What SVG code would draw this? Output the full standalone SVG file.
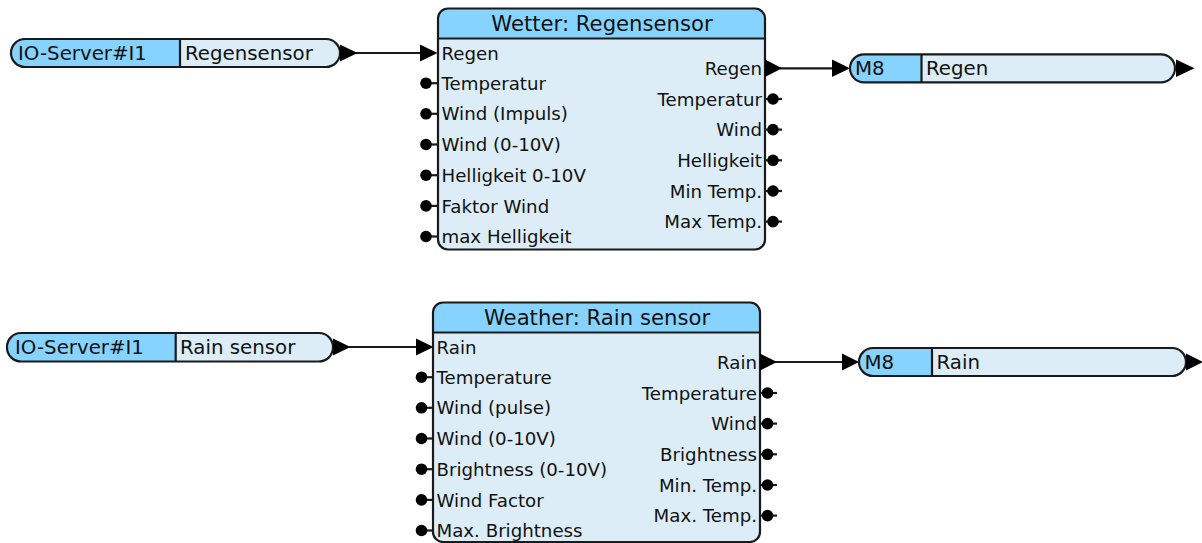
<svg xmlns="http://www.w3.org/2000/svg" width="1202" height="543" viewBox="0 0 1202 543">
<style>
.body{fill:#DCEDF8}
.head{fill:#87D3FF}
.ol{fill:none;stroke:#1a1a1a;stroke-width:2.2}
.ln{stroke:#1a1a1a;stroke-width:2.2;fill:none}
.dot{fill:#000}
.tri{fill:#000}
text{font-family:"DejaVu Sans",sans-serif;fill:#111}
.title{font-size:21.2px;text-anchor:middle}
.lbl{font-size:18.2px}
.rl{font-size:18.2px;text-anchor:end}
.pt{font-size:19.8px}
</style>
<rect width="1202" height="543" fill="#fff"/>

<g id="connectors">
  <line class="ln" x1="356" y1="53" x2="421" y2="53"/>
  <polygon class="tri" points="420,44.5 437.5,53 420,61.5"/>
  <line class="ln" x1="780" y1="68.3" x2="833" y2="68.3"/>
  <polygon class="tri" points="832,59.5 850,68.3 832,77"/>
  <line class="ln" x1="349" y1="347" x2="417" y2="347"/>
  <polygon class="tri" points="416,338.5 433.5,347 416,355.5"/>
  <line class="ln" x1="775" y1="362" x2="843" y2="362"/>
  <polygon class="tri" points="842,353.5 859,362 842,370.5"/>
</g>

<g id="io-top">
  <rect class="body" x="11" y="39" width="329" height="28" rx="14"/>
  <path class="head" d="M180,39 H25 A14,14 0 0 0 25,67 H180 Z"/>
  <rect class="ol" x="11" y="39" width="329" height="28" rx="14"/>
  <line class="ln" x1="180" y1="39" x2="180" y2="67"/>
  <polygon class="tri" points="340,44.5 357.5,53 340,61.5"/>
  <text class="pt" x="18" y="60">IO-Server#I1</text>
  <text class="pt" x="185" y="60">Regensensor</text>
</g>

<g id="block-top">
  <rect class="body" x="438" y="8.5" width="327" height="241" rx="10"/>
  <path class="head" d="M438,38.5 V18.5 A10,10 0 0 1 448,8.5 H755 A10,10 0 0 1 765,18.5 V38.5 Z"/>
  <line class="ln" x1="438" y1="38.5" x2="765" y2="38.5"/>
  <rect class="ol" x="438" y="8.5" width="327" height="241" rx="10"/>
  <text class="title" x="602" y="30.5">Wetter: Regensensor</text>
  <g class="ln">
    <line x1="426" y1="83.2" x2="438" y2="83.2"/>
    <line x1="426" y1="113.8" x2="438" y2="113.8"/>
    <line x1="426" y1="144.5" x2="438" y2="144.5"/>
    <line x1="426" y1="175.2" x2="438" y2="175.2"/>
    <line x1="426" y1="205.9" x2="438" y2="205.9"/>
    <line x1="426" y1="236.5" x2="438" y2="236.5"/>
    <line x1="765" y1="99" x2="782" y2="99"/>
    <line x1="765" y1="129.6" x2="782" y2="129.6"/>
    <line x1="765" y1="160.3" x2="782" y2="160.3"/>
    <line x1="765" y1="191" x2="782" y2="191"/>
    <line x1="765" y1="221.6" x2="782" y2="221.6"/>
  </g>
  <g class="dot">
    <circle cx="426" cy="83.2" r="5.8"/>
    <circle cx="426" cy="113.8" r="5.8"/>
    <circle cx="426" cy="144.5" r="5.8"/>
    <circle cx="426" cy="175.2" r="5.8"/>
    <circle cx="426" cy="205.9" r="5.8"/>
    <circle cx="426" cy="236.5" r="5.8"/>
    <circle cx="773" cy="99" r="5.8"/>
    <circle cx="773" cy="129.6" r="5.8"/>
    <circle cx="773" cy="160.3" r="5.8"/>
    <circle cx="773" cy="191" r="5.8"/>
    <circle cx="773" cy="221.6" r="5.8"/>
  </g>
  <polygon class="tri" points="765,59.5 782,68.3 765,77"/>
  <text class="lbl" x="441.5" y="59.6">Regen</text>
  <text class="lbl" x="441.5" y="89.8">Temperatur</text>
  <text class="lbl" x="441.5" y="120.4">Wind (Impuls)</text>
  <text class="lbl" x="441.5" y="151.1">Wind (0-10V)</text>
  <text class="lbl" x="441.5" y="181.8">Helligkeit 0-10V</text>
  <text class="lbl" x="441.5" y="212.5">Faktor Wind</text>
  <text class="lbl" x="441.5" y="243.1">max Helligkeit</text>
  <text class="rl" x="762" y="74.9">Regen</text>
  <text class="rl" x="762" y="105.6">Temperatur</text>
  <text class="rl" x="762" y="136.2">Wind</text>
  <text class="rl" x="762" y="166.9">Helligkeit</text>
  <text class="rl" x="762" y="197.6">Min Temp.</text>
  <text class="rl" x="762" y="228.2">Max Temp.</text>
</g>

<g id="m8-top">
  <rect class="body" x="850" y="54.3" width="325" height="28" rx="14"/>
  <path class="head" d="M921.5,54.3 H864 A14,14 0 0 0 864,82.3 H921.5 Z"/>
  <rect class="ol" x="850" y="54.3" width="325" height="28" rx="14"/>
  <line class="ln" x1="921.5" y1="54.3" x2="921.5" y2="82.3"/>
  <polygon class="tri" points="1176,59.5 1194.5,68.3 1176,77"/>
  <text class="pt" x="855" y="75.3">M8</text>
  <text class="pt" x="926" y="75.3">Regen</text>
</g>

<g id="io-bottom">
  <rect class="body" x="7" y="333" width="326" height="28.5" rx="14"/>
  <path class="head" d="M175.7,333 H21 A14.25,14.25 0 0 0 21,361.5 H175.7 Z"/>
  <rect class="ol" x="7" y="333" width="326" height="28.5" rx="14"/>
  <line class="ln" x1="175.7" y1="333" x2="175.7" y2="361.5"/>
  <polygon class="tri" points="333,338.5 350.5,347 333,355.5"/>
  <text class="pt" x="15" y="354.2">IO-Server#I1</text>
  <text class="pt" x="180" y="354.2">Rain sensor</text>
</g>

<g id="block-bottom">
  <rect class="body" x="433" y="302.5" width="327" height="239.5" rx="10"/>
  <path class="head" d="M433,332.5 V312.5 A10,10 0 0 1 443,302.5 H750 A10,10 0 0 1 760,312.5 V332.5 Z"/>
  <line class="ln" x1="433" y1="332.5" x2="760" y2="332.5"/>
  <rect class="ol" x="433" y="302.5" width="327" height="239.5" rx="10"/>
  <text class="title" x="597" y="324.5">Weather: Rain sensor</text>
  <g class="ln">
    <line x1="421.5" y1="377.2" x2="433" y2="377.2"/>
    <line x1="421.5" y1="407.8" x2="433" y2="407.8"/>
    <line x1="421.5" y1="438.5" x2="433" y2="438.5"/>
    <line x1="421.5" y1="469.2" x2="433" y2="469.2"/>
    <line x1="421.5" y1="499.9" x2="433" y2="499.9"/>
    <line x1="421.5" y1="530.5" x2="433" y2="530.5"/>
    <line x1="760" y1="393" x2="777" y2="393"/>
    <line x1="760" y1="423.6" x2="777" y2="423.6"/>
    <line x1="760" y1="454.3" x2="777" y2="454.3"/>
    <line x1="760" y1="485" x2="777" y2="485"/>
    <line x1="760" y1="515.6" x2="777" y2="515.6"/>
  </g>
  <g class="dot">
    <circle cx="421.5" cy="377.2" r="5.8"/>
    <circle cx="421.5" cy="407.8" r="5.8"/>
    <circle cx="421.5" cy="438.5" r="5.8"/>
    <circle cx="421.5" cy="469.2" r="5.8"/>
    <circle cx="421.5" cy="499.9" r="5.8"/>
    <circle cx="421.5" cy="530.5" r="5.8"/>
    <circle cx="767.5" cy="393" r="5.8"/>
    <circle cx="767.5" cy="423.6" r="5.8"/>
    <circle cx="767.5" cy="454.3" r="5.8"/>
    <circle cx="767.5" cy="485" r="5.8"/>
    <circle cx="767.5" cy="515.6" r="5.8"/>
  </g>
  <polygon class="tri" points="760,353.5 777,362 760,370.5"/>
  <text class="lbl" x="436.5" y="353.6">Rain</text>
  <text class="lbl" x="436.5" y="383.8">Temperature</text>
  <text class="lbl" x="436.5" y="414.4">Wind (pulse)</text>
  <text class="lbl" x="436.5" y="445.1">Wind (0-10V)</text>
  <text class="lbl" x="436.5" y="475.8">Brightness (0-10V)</text>
  <text class="lbl" x="436.5" y="506.5">Wind Factor</text>
  <text class="lbl" x="436.5" y="537.1">Max. Brightness</text>
  <text class="rl" x="757" y="368.6">Rain</text>
  <text class="rl" x="757" y="399.6">Temperature</text>
  <text class="rl" x="757" y="430.2">Wind</text>
  <text class="rl" x="757" y="460.9">Brightness</text>
  <text class="rl" x="757" y="491.6">Min. Temp.</text>
  <text class="rl" x="757" y="522.2">Max. Temp.</text>
</g>

<g id="m8-bottom">
  <rect class="body" x="859" y="348" width="327" height="28" rx="14"/>
  <path class="head" d="M932,348 H873 A14,14 0 0 0 873,376 H932 Z"/>
  <rect class="ol" x="859" y="348" width="327" height="28" rx="14"/>
  <line class="ln" x1="932" y1="348" x2="932" y2="376"/>
  <polygon class="tri" points="1186,353.5 1203,362 1186,370.5"/>
  <text class="pt" x="864.5" y="369">M8</text>
  <text class="pt" x="936.5" y="369">Rain</text>
</g>
</svg>
